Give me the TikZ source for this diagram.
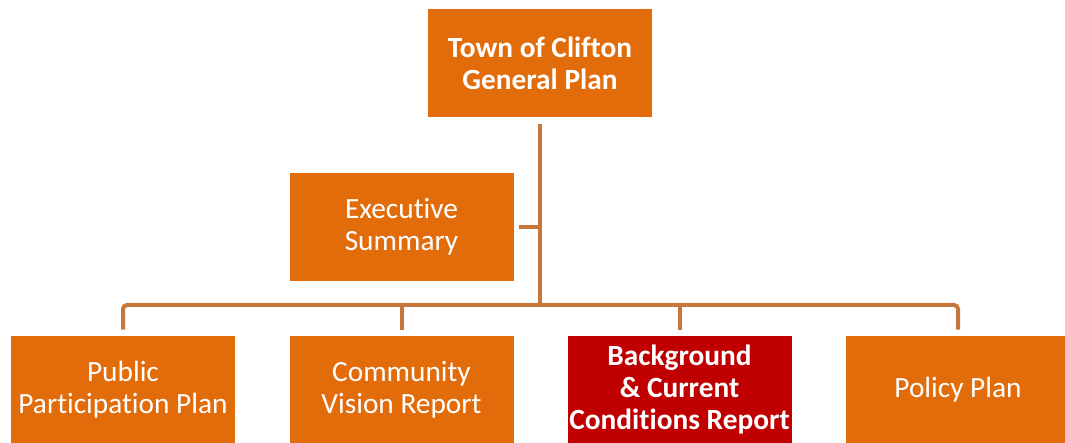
\documentclass[tikz,border=0pt]{standalone}
\usepackage{fontspec}
\setmainfont[Ligatures=NoCommon]{Carlito}
\usepackage{tikz}
\usetikzlibrary{positioning}
\definecolor{planorange}{HTML}{E36C0A}
\definecolor{planred}{HTML}{C00000}
\definecolor{linkbrown}{HTML}{C8773A}

\begin{document}
\begin{tikzpicture}[x=0.75pt, y=0.75pt,
    box/.style={fill=planorange, text=white, minimum width=168pt, minimum height=81pt,
        align=center, inner sep=0pt, font=\fontsize{22}{24}\selectfont},
    link/.style={draw=linkbrown, line width=3pt, rounded corners=3pt}]
    \useasboundingbox (0,0) rectangle (1065,443);
    \node[box, font=\fontsize{22}{24}\selectfont\bfseries] (gp) at (540,379.5) {Town of Clifton\\General Plan};
    \node[box] (es) at (401.5,216) {Executive\\Summary};
    \node[box] (ppp) at (123,53) {Public\\Participation Plan};
    \node[box] (cvr) at (401.5,53) {Community\\Vision Report};
    \node[box, fill=planred, font=\fontsize{22}{24}\selectfont\bfseries] (bcc) at (679.5,53) {Background\\\& Current\\Conditions Report};
    \node[box] (pol) at (958,53) {Policy Plan};
    \coordinate (bar) at (540,138);
    % trunk and side branch
    \draw[link, shorten <=4.5pt] (gp.south) -- (gp.south |- bar);
    \draw[link, shorten <=3.75pt] (es.east) -- (es.east -| gp.south);
    % bar across the bottom row
    \draw[link, shorten <=4.5pt, shorten >=4.5pt] (ppp.north) |- (pol.north |- bar) -- (pol.north);
    \draw[link, shorten >=4.5pt] (cvr.north |- bar) -- (cvr.north);
    \draw[link, shorten >=4.5pt] (bcc.north |- bar) -- (bcc.north);
\end{tikzpicture}
\end{document}
